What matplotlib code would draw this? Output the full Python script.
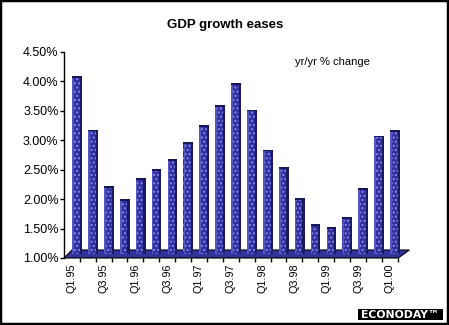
import matplotlib
matplotlib.use("Agg")
from matplotlib import pyplot as plt
from matplotlib.patches import Polygon, Rectangle
import numpy as np

plt.rcParams['font.family'] = ['Liberation Sans', 'DejaVu Sans']

quarters = ["Q1.95", "Q2.95", "Q3.95", "Q4.95", "Q1.96", "Q2.96", "Q3.96", "Q4.96",
            "Q1.97", "Q2.97", "Q3.97", "Q4.97", "Q1.98", "Q2.98", "Q3.98", "Q4.98",
            "Q1.99", "Q2.99", "Q3.99", "Q4.99", "Q1.00"]
growth = [4.09, 3.18, 2.22, 2.00, 2.36, 2.51, 2.68, 2.97, 3.26, 3.60, 3.97,
          3.52, 2.84, 2.54, 2.02, 1.57, 1.52, 1.69, 2.19, 3.08, 3.17]
yticks = [1.0, 1.5, 2.0, 2.5, 3.0, 3.5, 4.0, 4.5]

W, H = 449, 325
fig = plt.figure(figsize=(W / 100, H / 100), dpi=100)
ax = fig.add_axes([64 / W, (H - 258) / H, (410 - 64) / W, (258 - 52) / H])

x = np.arange(len(quarters))
ax.set_xlim(-0.82, 20.94)
ax.set_ylim(1.0, 4.5)

# floor of the 3d chart
depth_x, depth_y = 0.5, 0.136
floor = Polygon([(-0.82, 1.0), (20.2, 1.0), (20.2 + 0.7, 1.0 + depth_y),
                 (-0.82 + depth_x, 1.0 + depth_y)], closed=True,
                facecolor='#32329a', edgecolor='black', lw=0.8, clip_on=False, zorder=1)
ax.add_patch(floor)

vals = np.array(growth)
base = 1.06
ax.bar(x, vals - base, bottom=base, width=0.62, color='#3030a0',
       edgecolor='#8888e0', hatch='....', linewidth=0, zorder=2)
ax.bar(x - 0.25, vals - base, bottom=base, width=0.1, color='#5555c4',
       linewidth=0, zorder=3)
ax.bar(x + 0.24, vals - base, bottom=base, width=0.14, color='#1a1a62',
       linewidth=0, zorder=3)
ax.bar(x, 0.03, bottom=vals - 0.03, width=0.62, color='#16165a',
       linewidth=0, zorder=3)

ax.set_yticks(yticks)
ax.set_yticklabels([f"{v:.2f}%" for v in yticks], fontsize=9)
ax.tick_params(axis='y', direction='out', length=3, width=1, pad=1, color='black')

ax.set_xticks(x[::2] - 0.33)
ax.set_xticklabels(quarters[::2], rotation=90, fontsize=7.8)
ax.set_xticks(np.arange(0, 21) + 0.17, minor=True)
ax.tick_params(axis='x', which='major', length=0, pad=4)
ax.tick_params(axis='x', which='minor', direction='out', length=3, width=1)

for s in ['top', 'right', 'bottom']:
    ax.spines[s].set_visible(False)
ax.spines['left'].set_linewidth(1)

fig.text(225 / W, 1 - 25 / H, "GDP growth eases", ha='center', va='center',
         fontsize=9.5, fontweight='bold')
fig.text(295 / W, 1 - 62 / H, "yr/yr % change", ha='left', va='center', fontsize=8)

# logo box
fig.patches.append(Rectangle((358 / W, 1 - 320 / H), 85 / W, 11 / H,
                             transform=fig.transFigure, facecolor='black',
                             edgecolor='none'))
fig.text(400 / W, 1 - 314.5 / H, "ECONODAY\u2122", ha='center', va='center',
         fontsize=7.8, fontweight='bold', color='white', family=['DejaVu Sans'])

# image frame
fig.patches.append(Rectangle((0, 0), 1, 1, transform=fig.transFigure, fill=False,
                             edgecolor='black', lw=3.2))

fig.savefig("out.png", dpi=100)
